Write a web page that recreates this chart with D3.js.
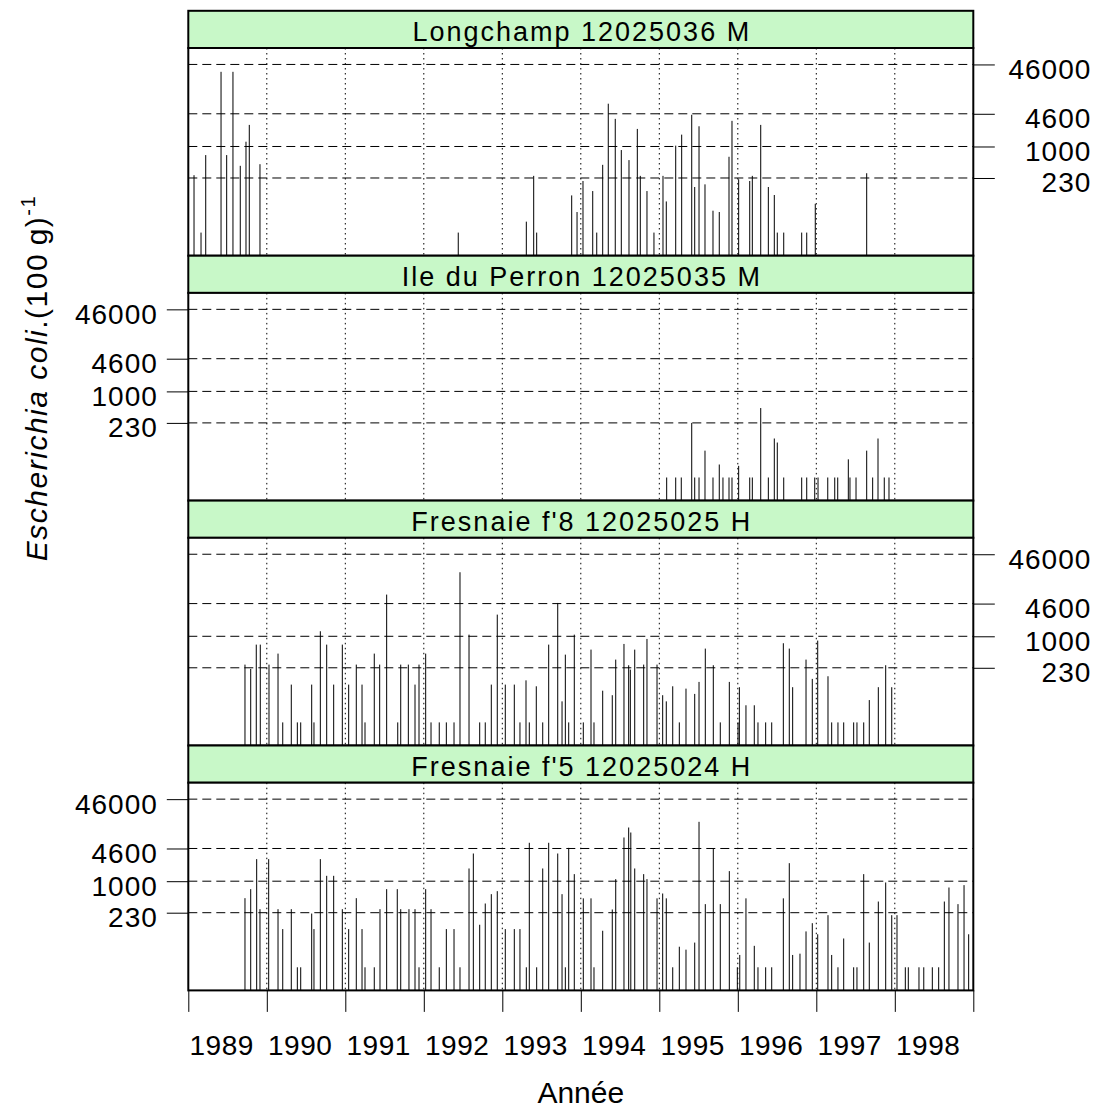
<!DOCTYPE html>
<html><head><meta charset="utf-8">
<script src="https://cdn.jsdelivr.net/npm/d3@7"></script>
<style>
body{margin:0;background:#fff}
svg{display:block}
text{font-family:"Liberation Sans",Arial,Helvetica,sans-serif;fill:#000}
</style>
</head><body>
<svg id="chart" width="1111" height="1109"></svg>
<script>
// ---------------- DATA ----------------
const stations = ["Longchamp 12025036 M", "Ile du Perron 12025035 M", "Fresnaie f'8 12025025 H", "Fresnaie f'5 12025024 H"];
const yearTicks = [1989, 1990, 1991, 1992, 1993, 1994, 1995, 1996, 1997, 1998, 1999];
const yearLabels = ["1989", "1990", "1991", "1992", "1993", "1994", "1995", "1996", "1997", "1998"];
const yTickValues = [230, 1000, 4600, 46000];
const yTickLabels = ["230", "1000", "4600", "46000"];
const xTitle = "Année";

// Longchamp 12025036 M : sampling date (decimal year) and E. coli per 100 g
const longchampDates = [1989.073,1989.162,1989.222,1989.417,1989.489,1989.569,1989.662,1989.735,1989.777,1989.913,
  1992.439,1993.306,1993.400,1993.438,1993.884,1993.952,1994.028,1994.152,1994.203,1994.279,1994.350,1994.439,
  1994.516,1994.614,1994.720,1994.758,1994.843,1994.932,1995.047,1995.089,1995.209,1995.285,1995.413,1995.451,
  1995.506,1995.582,1995.684,1995.764,1995.888,1995.926,1996.011,1996.152,1996.185,1996.292,1996.389,1996.465,
  1996.503,1996.585,1996.814,1996.878,1996.987,1997.642];
const longchampValues = [262,18,670,32600,670,32600,406,1250,2740,438,
  18,30,254,18,102,47,200,125,18,425,7360,3630,
  847,530,2270,254,125,18,254,77,1040,1740,4390,151,
  2570,171,50,47,619,3310,217,200,254,2740,151,104,
  18,18,18,18,69,287];

// Ile du Perron 12025035 M
const perronDates = [1995.094,1995.209,1995.280,1995.413,1995.451,1995.506,1995.582,1995.684,1995.764,1995.811,
  1995.888,1995.926,1996.011,1996.152,1996.185,1996.292,1996.389,1996.465,1996.503,1996.585,1996.814,1996.878,
  1996.980,1997.022,1997.146,1997.235,1997.273,1997.408,1997.429,1997.506,1997.642,1997.718,1997.786,1997.866,1997.926];
const perronValues = [18,18,18,230,18,18,63,18,33,18,
  18,18,31,18,18,460,18,111,92,18,18,18,
  18,18,18,18,18,42,18,18,63,18,111,18,18];

// Fresnaie f'8 12025025 H
const f8Dates = [1989.722,1989.795,1989.866,1989.917,1990.028,1990.143,1990.203,1990.312,1990.389,1990.432,
  1990.572,1990.601,1990.682,1990.763,1990.852,1990.962,1991.043,1991.140,1991.213,1991.251,
  1991.369,1991.438,1991.527,1991.668,1991.706,1991.803,1991.888,1991.939,1992.024,1992.092,
  1992.197,1992.287,1992.385,1992.461,1992.576,1992.712,1992.783,1992.860,1992.936,1993.038,
  1993.153,1993.225,1993.302,1993.344,1993.433,1993.515,1993.591,1993.706,1993.761,1993.803,
  1993.846,1993.917,1994.032,1994.130,1994.168,1994.279,1994.401,1994.445,1994.550,1994.610,
  1994.631,1994.687,1994.801,1994.843,1994.971,1995.043,1995.089,1995.171,1995.255,1995.340,
  1995.451,1995.506,1995.586,1995.688,1995.777,1995.892,1996.003,1996.020,1996.104,1996.210,
  1996.257,1996.355,1996.432,1996.580,1996.656,1996.699,1996.869,1996.949,1997.018,1997.149,
  1997.196,1997.276,1997.349,1997.476,1997.518,1997.604,1997.675,1997.790,1997.884,1997.961];
const f8Values = [267,218,678,678,267,446,18,105,18,18,
  105,18,1265,678,105,678,105,267,105,18,
  446,267,7000,18,267,267,105,267,446,18,
  18,18,18,19860,1080,18,18,105,2750,105,
  105,18,128,18,97,18,678,4740,48,425,
  18,1080,18,537,18,79,64,337,700,259,
  211,537,267,884,267,64,48,97,18,87,
  68,119,563,259,18,119,18,93,40,40,
  18,18,18,723,563,93,337,137,818,155,
  18,18,18,18,18,18,51,93,259,93];

// Fresnaie f'5 12025024 H
const f5Dates = [1989.722,1989.795,1989.871,1989.913,1990.024,1990.143,1990.203,1990.312,1990.389,1990.432,
  1990.572,1990.601,1990.682,1990.763,1990.852,1990.962,1991.043,1991.140,1991.213,1991.251,
  1991.369,1991.442,1991.527,1991.662,1991.706,1991.811,1991.888,1991.939,1992.024,1992.092,
  1992.197,1992.287,1992.385,1992.461,1992.576,1992.631,1992.712,1992.783,1992.860,1992.936,
  1993.038,1993.153,1993.225,1993.306,1993.344,1993.438,1993.515,1993.591,1993.706,1993.761,
  1993.803,1993.846,1993.917,1994.032,1994.130,1994.168,1994.279,1994.401,1994.445,1994.550,
  1994.610,1994.637,1994.687,1994.801,1994.843,1994.971,1995.043,1995.089,1995.171,1995.255,
  1995.340,1995.451,1995.506,1995.586,1995.688,1995.777,1995.892,1995.994,1996.025,1996.104,
  1996.210,1996.257,1996.355,1996.432,1996.580,1996.656,1996.699,1996.792,1996.869,1996.949,
  1997.018,1997.149,1997.196,1997.276,1997.349,1997.476,1997.518,1997.604,1997.675,1997.790,
  1997.884,1997.961,1998.028,1998.134,1998.172,1998.308,1998.369,1998.478,1998.559,1998.631,
  1998.690,1998.805,1998.882,1998.941];
const f5Values = [453,690,2800,271,2800,271,107,271,18,18,
  221,107,2800,1285,1285,271,107,453,107,18,
  18,271,690,690,271,271,271,18,690,271,
  18,107,107,18,1810,3640,131,353,546,628,
  107,107,107,18,6000,18,1810,6000,3640,546,
  18,4740,1390,449,449,18,99,267,1100,7690,
  12250,9700,1810,1390,1100,449,563,449,18,47,
  41,57,15970,343,4600,343,1600,18,32,449,
  49,18,18,18,449,2320,32,34,96,141,
  84,205,32,18,69,18,18,1390,57,387,
  942,205,205,18,18,18,18,18,18,387,
  745,343,832,84];

// ---------------- CHART ----------------
const panels = [
  {name: stations[0], dates: longchampDates, values: longchampValues, side: "right"},
  {name: stations[1], dates: perronDates, values: perronValues, side: "left"},
  {name: stations[2], dates: f8Dates, values: f8Values, side: "right"},
  {name: stations[3], dates: f5Dates, values: f5Values, side: "left"}
];

const svg = d3.select("#chart");
const xLeft = 188.3, xRight = 973.3;
const plotTop0 = 48, panelStep = 244.9, plotH = 207.7, stripH = 37.2;
const tickLen = 21.5;
const fs = 28;

const x = d3.scaleLinear().domain([1989, 1999]).range([xLeft, xRight]);

panels.forEach((p, i) => {
  const top = plotTop0 + i * panelStep;
  const bottom = top + plotH;
  const y = d3.scaleLog().domain([Math.pow(10, 0.787), Math.pow(10, 4.996)]).range([bottom, top]);
  const g = svg.append("g");

  // strip
  g.append("rect").attr("x", xLeft).attr("y", top - stripH).attr("width", xRight - xLeft).attr("height", stripH)
    .attr("fill", "#c8f8c8").attr("stroke", "#000").attr("stroke-width", 2);
  g.append("text").attr("x", (xLeft + xRight) / 2 + 1).attr("y", top - stripH + 30.5)
    .attr("text-anchor", "middle").attr("font-size", 27).attr("letter-spacing", 2).text(p.name);

  // plot background
  g.append("rect").attr("x", xLeft).attr("y", top).attr("width", xRight - xLeft).attr("height", plotH)
    .attr("fill", "#fff");

  // vertical dotted grid
  g.selectAll("line.vg").data(yearTicks.slice(1, -1)).enter().append("line")
    .attr("x1", d => x(d)).attr("x2", d => x(d)).attr("y1", top).attr("y2", bottom)
    .attr("stroke", "#000").attr("stroke-width", 1).attr("stroke-dasharray", "1.5,3.5");

  // horizontal dashed grid
  g.selectAll("line.hg").data(yTickValues).enter().append("line")
    .attr("x1", xLeft).attr("x2", xRight).attr("y1", d => y(d)).attr("y2", d => y(d))
    .attr("stroke", "#000").attr("stroke-width", 1).attr("stroke-dasharray", "9,5");

  // bars (needles)
  const data = p.dates.map((d, k) => ({t: d, v: p.values[k]}));
  g.selectAll("line.bar").data(data).enter().append("line")
    .attr("x1", d => x(d.t)).attr("x2", d => x(d.t))
    .attr("y1", bottom).attr("y2", d => y(d.v))
    .attr("stroke", "#000").attr("stroke-width", 1);

  // frame
  g.append("rect").attr("x", xLeft).attr("y", top).attr("width", xRight - xLeft).attr("height", plotH)
    .attr("fill", "none").attr("stroke", "#000").attr("stroke-width", 2);

  // y axis
  const axis = (p.side === "left" ? d3.axisLeft(y) : d3.axisRight(y))
    .tickValues(yTickValues).tickFormat((d, k) => yTickLabels[k]).tickSize(tickLen).tickPadding(9);
  const ag = g.append("g").attr("transform", `translate(${p.side === "left" ? xLeft : xRight},0)`).call(axis);
  ag.select(".domain").remove();
  ag.selectAll("line").attr("stroke", "#000");
  ag.selectAll("text").attr("font-size", fs).attr("dy", "0.5em").attr("letter-spacing", 1)
    .attr("font-family", '"Liberation Sans",Arial,sans-serif');
  if (p.side === "right") ag.selectAll("text").attr("text-anchor", "end").attr("x", 118);
});

// x axis at bottom
const lastBottom = plotTop0 + 3 * panelStep + plotH;
const xa = d3.axisBottom(x).tickValues(yearTicks).tickFormat("").tickSize(tickLen);
const xg = svg.append("g").attr("transform", `translate(0,${lastBottom})`).call(xa);
xg.select(".domain").remove();
xg.selectAll("line").attr("stroke", "#000");
svg.selectAll("text.xl").data(yearLabels).enter().append("text").attr("class", "xl")
  .attr("x", d => x(+d + 0.425)).attr("y", 1055).attr("text-anchor", "middle").attr("font-size", fs)
  .attr("letter-spacing", 0.5).text(d => d);

// axis titles
svg.append("text").attr("x", (xLeft + xRight) / 2).attr("y", 1103).attr("text-anchor", "middle")
  .attr("font-size", 30).text(xTitle);

const yt = svg.append("text").attr("transform", "translate(47,378) rotate(-90)")
  .attr("text-anchor", "middle").attr("font-size", 30).attr("letter-spacing", 1.5);
yt.append("tspan").attr("font-style", "italic").text("Escherichia coli");
yt.append("tspan").text(".(100\u2009g)");
yt.append("tspan").attr("font-size", 20).attr("dy", -12).text("-1");
</script>
</body></html>
